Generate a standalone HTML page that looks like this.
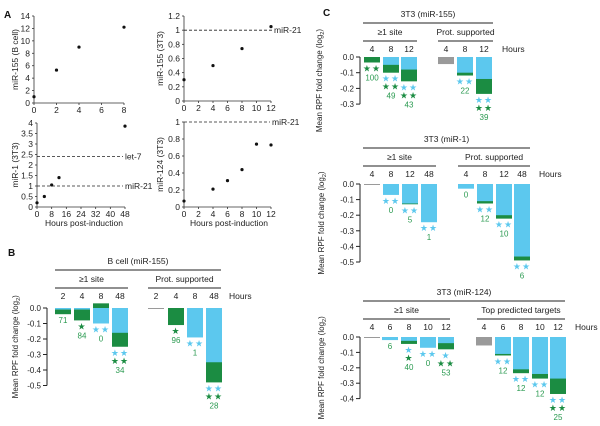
<!DOCTYPE html>
<html><head><meta charset="utf-8"><style>
html,body{margin:0;padding:0;background:#fff}
svg{display:block;font-family:"Liberation Sans",sans-serif}
</style></head><body>
<svg id="fig" width="600" height="426" viewBox="0 0 600 426" xmlns="http://www.w3.org/2000/svg"></svg>
<script>
// ---- Panel A data ----
const a1X=[0,2,4,8], a1Y=[1,5.3,9,12.2];
const a2X=[0,4,8,12], a2Y=[0.3,0.5,0.74,1.05];
const a3X=[0,4,8,12,48], a3Y=[0.2,0.5,1.05,1.4,3.85];
const a4X=[0,4,6,8,10,12], a4Y=[0.07,0.21,0.31,0.44,0.74,0.73];
const a1XTicks=[0,2,4,6,8], a1YTicks=[0,2,4,6,8,10,12,14];
const a2XTicks=[0,2,4,6,8,10,12], a2YTicks=[0,0.2,0.4,0.6,0.8,1,1.2];
const a3XTicks=[0,8,16,24,32,40,48], a3YTicks=[0,0.5,1,1.5,2,2.5,3,3.5,4];
const a4XTicks=[0,2,4,6,8,10,12], a4YTicks=[0,0.2,0.4,0.6,0.8,1];
// ---- Panel B data ----
const bHours=[2,4,8,48,2,4,8,48];
const bBlue=[-0.01,-0.01,-0.1,-0.16,null,null,-0.19,-0.35];
const bGreen=[-0.04,-0.08,0.03,-0.25,null,-0.11,null,-0.48];
const bGray=[null,null,null,null,-0.003,null,null,null];
const bBlueStars=[0,0,2,2,0,0,2,2];
const bGreenStars=[0,1,0,2,0,1,0,2];
const bCounts=["71","84","0","34","","96","1","28"];
const bTicks=[0,-0.1,-0.2,-0.3,-0.4,-0.5];
// ---- Panel C miR-155 ----
const c1Hours=[4,8,12,4,8,12];
const c1Blue=[null,-0.05,-0.08,null,-0.1,-0.14];
const c1Green=[-0.035,-0.1,-0.155,null,-0.118,-0.235];
const c1Gray=[null,null,null,-0.045,null,null];
const c1BlueStars=[0,2,2,0,2,2];
const c1GreenStars=[2,2,2,0,0,2];
const c1Counts=["100","49","43","","22","39"];
const c1Ticks=[0,-0.1,-0.2,-0.3];
// ---- Panel C miR-1 ----
const c2Hours=[4,8,12,48,4,8,12,48];
const c2Blue=[null,-0.07,-0.125,-0.245,-0.03,-0.11,-0.2,-0.465];
const c2Green=[null,null,-0.13,null,null,-0.125,-0.222,-0.49];
const c2Gray=[-0.003,null,null,null,null,null,null,null];
const c2BlueStars=[0,2,2,2,0,2,2,2];
const c2GreenStars=[0,0,0,0,0,0,0,0];
const c2Counts=["","0","5","1","0","12","10","6"];
const c2Ticks=[0,-0.1,-0.2,-0.3,-0.4,-0.5];
// ---- Panel C miR-124 ----
const c3Hours=[4,6,8,10,12,4,6,8,10,12];
const c3Blue=[null,-0.02,-0.025,-0.07,-0.04,null,-0.11,-0.21,-0.24,-0.27];
const c3Green=[null,null,-0.045,null,-0.08,null,-0.12,-0.235,-0.27,-0.37];
const c3Gray=[-0.005,null,null,null,null,-0.055,null,null,null,null];
const c3BlueStars=[0,0,1,2,1,0,2,2,2,2];
const c3GreenStars=[0,0,1,0,2,0,0,0,0,2];
const c3Counts=["","6","40","0","53","","12","12","12","25"];
const c3Ticks=[0,-0.1,-0.2,-0.3,-0.4];

const NS="http://www.w3.org/2000/svg";
const svg=document.getElementById('fig');
const BLUE="#5cc8ee",GREEN="#1b8c42",GRAY="#9a9a9a",TXT="#222",NUM="#2a9a50";
function mk(tag,attrs,parent){const e=document.createElementNS(NS,tag);for(const k in attrs)e.setAttribute(k,attrs[k]);(parent||svg).appendChild(e);return e;}
function txt(x,y,s,size,anchor,fill,name,extra){const t=mk('text',Object.assign({x:x,y:y,'font-size':size,'text-anchor':anchor||'middle',fill:fill||TXT},extra||{}));t.textContent=s;

return t;}
function fmt(v){return (Math.round(v*100)/100).toString();}

// ---- scatter ----
function scatter(id,X,Y,xt,yt,L,ylab,refs){
  const g=mk('g',{});
  
  
  const sx=v=>L.x0+(v-xt[0])/(xt[xt.length-1]-xt[0])*(L.x1-L.x0);
  const sy=v=>L.y0-(v-yt[0])/(yt[yt.length-1]-yt[0])*(L.y0-L.y1);
  mk('line',{x1:L.x0,y1:L.y0,x2:L.x0,y2:L.y1,stroke:'#333','stroke-width':0.8},g);
  mk('line',{x1:L.x0,y1:L.y0,x2:L.x1,y2:L.y0,stroke:'#333','stroke-width':0.8},g);
  yt.forEach(v=>{mk('line',{x1:L.x0-2,y1:sy(v),x2:L.x0,y2:sy(v),stroke:'#333','stroke-width':0.8},g);txt(L.x0-4,sy(v)+3,fmt(v),8.5,'end',TXT,'y-tick-label');});
  xt.forEach(v=>{mk('line',{x1:sx(v),y1:L.y0,x2:sx(v),y2:L.y0+2,stroke:'#333','stroke-width':0.8},g);txt(sx(v),L.y0+10,fmt(v),8.5,'middle',TXT,'x-tick-label');});
  (refs||[]).forEach(r=>{mk('line',{x1:L.x0,y1:sy(r.v),x2:r.x2,y2:sy(r.v),stroke:'#222','stroke-width':0.8,'stroke-dasharray':'3,2'},g);txt(r.x2+2,sy(r.v)+3,r.label,8.5,'start',TXT,'reference-line-label');});
  X.forEach((v,i)=>{const c=mk('circle',{cx:sx(v),cy:sy(Y[i]),r:1.6,fill:'#111'},g);
    
    });
  txt(0,0,ylab,8.5,'middle',TXT,'y-axis-title',{transform:`translate(${L.lx},${(L.y0+L.y1)/2}) rotate(-90)`});
}
txt(4,18,'A',10,'start','#111','panel-label-a',{'font-weight':'bold'});
scatter('scatter-mir155-bcell',a1X,a1Y,a1XTicks,a1YTicks,{x0:34,x1:124,y0:103,y1:16,lx:18},'miR-155 (B cell)');
scatter('scatter-mir155-3t3',a2X,a2Y,a2XTicks,a2YTicks,{x0:184,x1:271,y0:101,y1:16,lx:163},'miR-155 (3T3)',[{v:1,x2:272,label:'miR-21'}]);
scatter('scatter-mir1-3t3',a3X,a3Y,a3XTicks,a3YTicks,{x0:37,x1:125,y0:207,y1:123,lx:18},'miR-1 (3T3)',[{v:2.4,x2:123,label:'let-7'},{v:1,x2:123,label:'miR-21'}]);
scatter('scatter-mir124-3t3',a4X,a4Y,a4XTicks,a4YTicks,{x0:184,x1:271,y0:207,y1:122,lx:163},'miR-124 (3T3)',[{v:1,x2:270,label:'miR-21'}]);
txt(84,226,'Hours post-induction',8.5,'middle',TXT,'x-axis-title');
txt(229,226,'Hours post-induction',8.5,'middle',TXT,'x-axis-title');

// ---- bar panels ----
function bars(id,D,L){
  const g=mk('g',{});
  
  
  const sy=v=>L.y0-v*L.pp;
  txt((L.tl[0]+L.tl[1])/2,L.ty,L.title,8.5,'middle',TXT,'chart-title');
  mk('line',{x1:L.tl[0],y1:L.ty+6,x2:L.tl[1],y2:L.ty+6,stroke:'#222','stroke-width':1},g);
  L.groups.forEach(gr=>{txt((gr.a+gr.b)/2,L.ty+18,gr.name,8.5,'middle',TXT,'group-header');
    mk('line',{x1:gr.a,y1:L.ty+24,x2:gr.b,y2:L.ty+24,stroke:'#222','stroke-width':1},g);});
  txt(L.hoursX,L.ty+35,'Hours',8.5,'start',TXT,'hours-label');
  const tk=D.ticks;
  mk('line',{x1:L.ax,y1:sy(tk[0]),x2:L.ax,y2:sy(tk[tk.length-1]),stroke:'#222','stroke-width':1},g);
  tk.forEach(v=>{mk('line',{x1:L.ax-4,y1:sy(v),x2:L.ax,y2:sy(v),stroke:'#222','stroke-width':1},g);
    txt(L.ax-6,sy(v)+3,v.toFixed(1).replace('-0.0','0.0'),8,'end',TXT,'y-tick-label');});
  txt(0,0,'',8,'middle',TXT,'y-axis-title',{transform:`translate(${L.ax-L.lo},${(sy(tk[0])+sy(tk[tk.length-1]))/2}) rotate(-90)`}).innerHTML='Mean RPF fold change (log<tspan font-size="5.5" dy="2">2</tspan><tspan dy="-2">)</tspan>';
  const w=16;
  D.hours.forEach((h,i)=>{
    const cx=L.cx[i];
    txt(cx,L.ty+35,String(h),8.5,'middle',TXT,'hour-label');
    const segs=[];
    if(D.blue[i]!==null)segs.push({v:D.blue[i],c:BLUE,n:'bar-blue'});
    if(D.green[i]!==null)segs.push({v:D.green[i],c:GREEN,n:'bar-green'});
    if(D.gray[i]!==null)segs.push({v:D.gray[i],c:GRAY,n:'bar-gray'});
    segs.sort((a,b)=>Math.abs(b.v)-Math.abs(a.v));
    let bottom=0;
    segs.forEach(s=>{
      const y1=sy(Math.max(0,s.v)),y2=sy(Math.min(0,s.v));
      const r=mk('rect',{x:cx-w/2,y:y1,width:w,height:Math.max(1,y2-y1),fill:s.c},g);
      
      
      bottom=Math.min(bottom,s.v);
    });
    let y=sy(bottom)+9;
    if(D.bs[i]>0){txt(cx,y,'★'.repeat(D.bs[i]),9,'middle',BLUE,'significance-stars-blue',{'letter-spacing':'1'});y+=8;}
    if(D.gs[i]>0){txt(cx,y,'★'.repeat(D.gs[i]),9,'middle',GREEN,'significance-stars-green',{'letter-spacing':'1'});y+=8;}
    if(D.counts[i]!==""){txt(cx,y+(D.bs[i]+D.gs[i]>0?1:0),D.counts[i],8,'middle',NUM,'target-count');}
  });
}
txt(8,256,'B',10,'start','#111','panel-label-b',{'font-weight':'bold'});
bars('bar-chart-bcell-mir155',{hours:bHours,blue:bBlue,green:bGreen,gray:bGray,bs:bBlueStars,gs:bGreenStars,counts:bCounts,ticks:bTicks},
 {y0:308,pp:155,ax:47,lo:29,ty:264,title:'B cell (miR-155)',tl:[55,221],groups:[{name:'≥1 site',a:55,b:128},{name:'Prot. supported',a:148,b:221}],hoursX:229,cx:[63,82,101,120,156,176,195,214]});
txt(323,16,'C',10,'start','#111','panel-label-c',{'font-weight':'bold'});
bars('bar-chart-3t3-mir155',{hours:c1Hours,blue:c1Blue,green:c1Green,gray:c1Gray,bs:c1BlueStars,gs:c1GreenStars,counts:c1Counts,ticks:c1Ticks},
 {y0:57,pp:157,ax:360,lo:38,ty:17,title:'3T3 (miR-155)',tl:[363,493],groups:[{name:'≥1 site',a:363,b:417},{name:'Prot. supported',a:438,b:493}],hoursX:502,cx:[372,391,409,446,465,484]});
bars('bar-chart-3t3-mir1',{hours:c2Hours,blue:c2Blue,green:c2Green,gray:c2Gray,bs:c2BlueStars,gs:c2GreenStars,counts:c2Counts,ticks:c2Ticks},
 {y0:184,pp:156,ax:360,lo:36,ty:142,title:'3T3 (miR-1)',tl:[363,530],groups:[{name:'≥1 site',a:363,b:436},{name:'Prot. supported',a:458,b:530}],hoursX:539,cx:[372,391,410,429,466,485,504,522]});
bars('bar-chart-3t3-mir124',{hours:c3Hours,blue:c3Blue,green:c3Green,gray:c3Gray,bs:c3BlueStars,gs:c3GreenStars,counts:c3Counts,ticks:c3Ticks},
 {y0:337,pp:154,ax:360,lo:36,ty:295,title:'3T3 (miR-124)',tl:[363,565],groups:[{name:'≥1 site',a:363,b:450},{name:'Top predicted targets',a:477,b:565}],hoursX:575,cx:[372,390,409,428,446,484,503,521,540,558]});
</script>
</body></html>
